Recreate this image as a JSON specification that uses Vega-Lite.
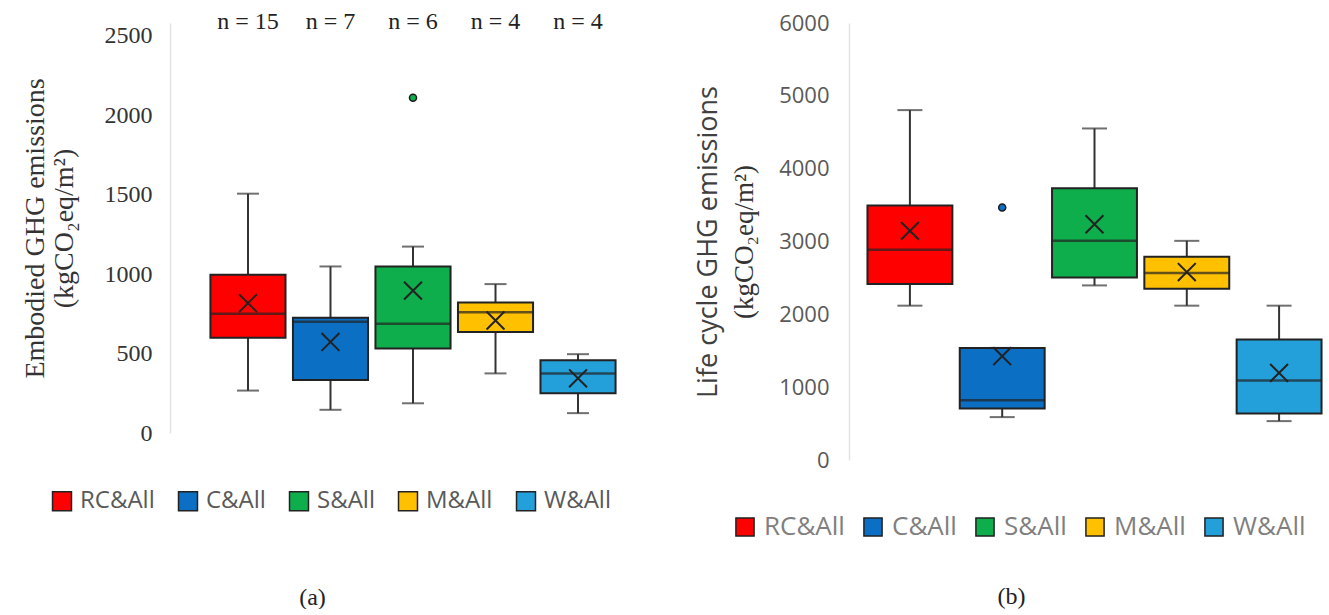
{
  "$schema": "https://vega.github.io/schema/vega-lite/v6.json",
  "background": "white",
  "padding": {"left": 21, "top": 9, "right": 0, "bottom": 0},
  "config": {"view": {"stroke": null}, "concat": {"spacing": 38}},
  "resolve": {"scale": {"color": "independent"}, "legend": {"color": "independent"}},
  "datasets": {
    "emb": [
      {"cat": "RC&All", "min": 267, "q1": 600, "median": 750, "q3": 996, "max": 1506, "mean": 817, "nLabel": "n = 15"},
      {"cat": "C&All", "min": 146, "q1": 333, "median": 700, "q3": 725, "max": 1048, "mean": 573, "nLabel": "n = 7"},
      {"cat": "S&All", "min": 187, "q1": 531, "median": 688, "q3": 1048, "max": 1173, "mean": 896, "nLabel": "n = 6"},
      {"cat": "M&All", "min": 375, "q1": 635, "median": 760, "q3": 821, "max": 937, "mean": 708, "nLabel": "n = 4"},
      {"cat": "W&All", "min": 125, "q1": 250, "median": 375, "q3": 458, "max": 496, "mean": 344, "nLabel": "n = 4"}
    ],
    "embOut": [
      {"cat": "S&All", "value": 2110}
    ],
    "lc": [
      {"cat": "RC&All", "min": 2119, "q1": 2415, "median": 2886, "q3": 3493, "max": 4804, "mean": 3146},
      {"cat": "C&All", "min": 589, "q1": 708, "median": 822, "q3": 1539, "max": 1539, "mean": 1425},
      {"cat": "S&All", "min": 2397, "q1": 2507, "median": 3009, "q3": 3730, "max": 4552, "mean": 3237},
      {"cat": "M&All", "min": 2119, "q1": 2352, "median": 2566, "q3": 2790, "max": 3009, "mean": 2580},
      {"cat": "W&All", "min": 534, "q1": 639, "median": 1091, "q3": 1653, "max": 2119, "mean": 1196}
    ],
    "lcOut": [
      {"cat": "C&All", "value": 3466}
    ]
  },
  "hconcat": [
    {
      "width": 486,
      "height": 410,
      "data": {"name": "emb"},
      "encoding": {
        "x": {"field": "cat", "type": "nominal", "sort": ["RC&All", "C&All", "S&All", "M&All", "W&All"], "scale": {"paddingInner": 0, "paddingOuter": 0.445},
          "axis": {"labels": false, "ticks": false, "domain": false, "grid": false, "title": "(a)", "titleFont": "Liberation Serif", "titleFontSize": 24, "titleFontWeight": "normal", "titleColor": "#222222", "titlePadding": 152, "titleX": 142}}
      },
      "layer": [
        {
          "mark": {"type": "rule", "color": "#333333", "strokeWidth": 2},
          "encoding": {
            "y": {"field": "min", "type": "quantitative", "scale": {"domain": [0, 2580], "nice": false, "zero": true},
              "axis": {"values": [0, 500, 1000, 1500, 2000, 2500], "format": "d", "grid": false, "ticks": false, "domainColor": "#e3e3e3", "domainWidth": 1.5,
                "labelFont": "Liberation Serif", "labelFontSize": 24, "labelColor": "#333333", "labelPadding": 18,
                "title": ["Embodied GHG emissions", "(kgCO₂eq/m²)"], "titleFont": "Liberation Serif", "titleFontSize": 28, "titleFontWeight": "normal", "titleColor": "#333333", "titleLineHeight": 29, "titlePadding": 26}},
            "y2": {"field": "max"}
          }
        },
        {
          "mark": {"type": "tick", "color": "#333333", "thickness": 2, "size": 22},
          "encoding": {"y": {"field": "min", "type": "quantitative"}}
        },
        {
          "mark": {"type": "tick", "color": "#333333", "thickness": 2, "size": 22},
          "encoding": {"y": {"field": "max", "type": "quantitative"}}
        },
        {
          "mark": {"type": "bar", "width": {"band": 0.91}, "stroke": "#222222", "strokeWidth": 2},
          "encoding": {
            "y": {"field": "q1", "type": "quantitative"},
            "y2": {"field": "q3"},
            "color": {"field": "cat", "type": "nominal",
              "scale": {"domain": ["RC&All", "C&All", "S&All", "M&All", "W&All"], "range": ["#ff0000", "#0b6fc4", "#0fae4c", "#ffc000", "#239fd9"]},
              "legend": {"orient": "none", "legendX": -120, "legendY": 466, "direction": "horizontal", "title": null,
                "symbolType": "square", "symbolSize": 360, "symbolStrokeColor": "#222222", "symbolStrokeWidth": 1.5,
                "labelFont": "Open Sans", "labelFontSize": 24, "labelColor": "#595959", "labelOffset": 6, "columnPadding": 20}}
          }
        },
        {
          "mark": {"type": "tick", "color": "#222222", "thickness": 2.5, "size": 75},
          "encoding": {"y": {"field": "median", "type": "quantitative"}}
        },
        {
          "mark": {"type": "point", "shape": "M-1,-1L1,1M-1,1L1,-1", "filled": false, "stroke": "#222222", "strokeWidth": 2, "size": 320, "opacity": 1},
          "encoding": {"y": {"field": "mean", "type": "quantitative"}}
        },
        {
          "data": {"name": "embOut"},
          "mark": {"type": "point", "filled": true, "size": 50, "stroke": "#1a1a1a", "strokeWidth": 1.5, "opacity": 1},
          "encoding": {
            "y": {"field": "value", "type": "quantitative"},
            "color": {"field": "cat", "type": "nominal", "legend": null}
          }
        },
        {
          "mark": {"type": "text", "font": "Liberation Serif", "fontSize": 24, "color": "#222222", "baseline": "bottom", "dy": -2},
          "encoding": {"y": {"datum": 2500}, "text": {"field": "nLabel"}}
        }
      ]
    },
    {
      "width": 491,
      "height": 437,
      "data": {"name": "lc"},
      "encoding": {
        "x": {"field": "cat", "type": "nominal", "sort": ["RC&All", "C&All", "S&All", "M&All", "W&All"], "scale": {"paddingInner": 0, "paddingOuter": 0.16},
          "axis": {"labels": false, "ticks": false, "domain": false, "grid": false, "title": "(b)", "titleFont": "Liberation Serif", "titleFontSize": 24, "titleFontWeight": "normal", "titleColor": "#222222", "titlePadding": 124, "titleX": 162}}
      },
      "resolve": {"axis": {"y": "independent"}},
      "layer": [
        {
          "mark": {"type": "rule", "color": "#333333", "strokeWidth": 2},
          "encoding": {
            "y": {"field": "min", "type": "quantitative", "scale": {"domain": [0, 6000], "nice": false},
              "axis": {"orient": "left", "values": [0, 1000, 2000, 3000, 4000, 5000, 6000], "format": "d", "grid": false, "ticks": false, "domainColor": "#e3e3e3", "domainWidth": 1.5,
                "labelFont": "Open Sans", "labelFontSize": 22, "labelColor": "#595959", "labelPadding": 20,
                "title": "(kgCO₂eq/m²)", "titleFont": "Liberation Serif", "titleFontSize": 27, "titleFontWeight": "normal", "titleColor": "#333333", "titlePadding": 20}},
            "y2": {"field": "max"}
          }
        },
        {
          "mark": {"type": "tick", "color": "#333333", "thickness": 2, "size": 25},
          "encoding": {"y": {"field": "min", "type": "quantitative",
            "axis": {"orient": "left", "offset": 127, "labels": false, "domain": false, "ticks": false, "grid": false,
              "title": "Life cycle GHG emissions", "titleFont": "Open Sans", "titleFontSize": 27, "titleFontWeight": "normal", "titleColor": "#404040", "titlePadding": 0}}}
        },
        {
          "mark": {"type": "tick", "color": "#333333", "thickness": 2, "size": 25},
          "encoding": {"y": {"field": "max", "type": "quantitative", "axis": null}}
        },
        {
          "mark": {"type": "bar", "width": {"band": 0.92}, "stroke": "#222222", "strokeWidth": 2},
          "encoding": {
            "y": {"field": "q1", "type": "quantitative", "axis": null},
            "y2": {"field": "q3"},
            "color": {"field": "cat", "type": "nominal",
              "scale": {"domain": ["RC&All", "C&All", "S&All", "M&All", "W&All"], "range": ["#ff0000", "#0b6fc4", "#0fae4c", "#ffc000", "#239fd9"]},
              "legend": {"orient": "none", "legendX": -117, "legendY": 491, "direction": "horizontal", "title": null,
                "symbolType": "square", "symbolSize": 330, "symbolStrokeColor": "#222222", "symbolStrokeWidth": 1.5,
                "labelFont": "Open Sans", "labelFontSize": 26, "labelColor": "#7f7f7f", "labelOffset": 6, "columnPadding": 15}}
          }
        },
        {
          "mark": {"type": "tick", "color": "#222222", "thickness": 2.5, "size": 85},
          "encoding": {"y": {"field": "median", "type": "quantitative", "axis": null}}
        },
        {
          "mark": {"type": "point", "shape": "M-1,-1L1,1M-1,1L1,-1", "filled": false, "stroke": "#222222", "strokeWidth": 2, "size": 320, "opacity": 1},
          "encoding": {"y": {"field": "mean", "type": "quantitative", "axis": null}}
        },
        {
          "data": {"name": "lcOut"},
          "mark": {"type": "point", "filled": true, "size": 50, "stroke": "#1a1a1a", "strokeWidth": 1.5, "opacity": 1},
          "encoding": {
            "y": {"field": "value", "type": "quantitative", "axis": null},
            "color": {"field": "cat", "type": "nominal", "legend": null}
          }
        }
      ]
    }
  ]
}
